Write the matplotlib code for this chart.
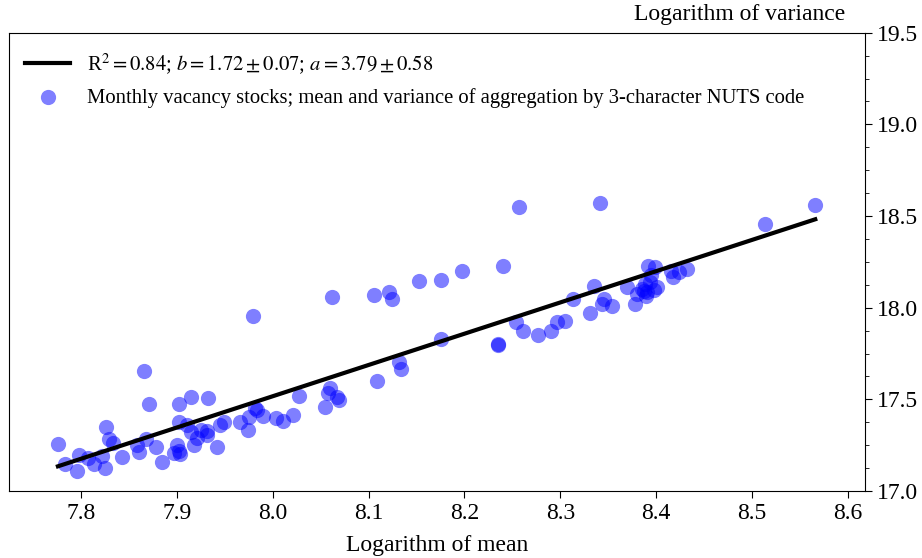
import numpy as np
import matplotlib
matplotlib.use("Agg")
import matplotlib.pyplot as plt
from matplotlib.ticker import AutoMinorLocator, MultipleLocator

plt.rcParams['font.family'] = ['Liberation Serif', 'DejaVu Serif']
plt.rcParams['mathtext.fontset'] = 'stix'

# log of mean / log of variance
log_mean = [
    7.776, 7.783, 7.796, 7.798, 7.807, 7.814, 7.822, 7.825, 7.826, 7.829,
    7.833, 7.843, 7.858, 7.861, 7.866, 7.868, 7.871, 7.878, 7.885, 7.902,
    7.902, 7.900, 7.897, 7.902, 7.903, 7.911, 7.915, 7.915, 7.918, 7.921,
    7.925, 7.931, 7.932, 7.933, 7.942, 7.945, 7.949, 7.966, 7.974, 7.975,
    7.980, 7.984, 7.982, 7.990, 8.003, 8.011, 8.021, 8.027, 8.055, 8.060,
    8.058, 8.067, 8.069, 8.109, 8.132, 8.134, 8.176, 8.235, 8.235,
    8.062, 8.106, 8.121, 8.125, 8.153, 8.176, 8.198, 8.240, 8.257, 8.341,
    8.514, 8.566,
    8.254, 8.261, 8.277, 8.290, 8.297, 8.305, 8.313, 8.331, 8.335, 8.344,
    8.346, 8.354, 8.370, 8.378, 8.380, 8.385, 8.389, 8.392, 8.399, 8.395,
    8.401, 8.388, 8.394, 8.391, 8.398, 8.387, 8.415, 8.418, 8.424, 8.432,
]
log_var = [
    17.257, 17.149, 17.111, 17.196, 17.182, 17.147, 17.193, 17.125, 17.349, 17.286,
    17.264, 17.183, 17.253, 17.211, 17.656, 17.284, 17.474, 17.239, 17.161, 17.474,
    17.375, 17.252, 17.210, 17.216, 17.201, 17.359, 17.515, 17.324, 17.252, 17.288,
    17.333, 17.326, 17.303, 17.507, 17.238, 17.361, 17.378, 17.375, 17.333, 17.405,
    17.953, 17.443, 17.454, 17.410, 17.397, 17.383, 17.415, 17.519, 17.460, 17.564,
    17.535, 17.514, 17.499, 17.603, 17.705, 17.668, 17.827, 17.801, 17.799,
    18.057, 18.072, 18.085, 18.049, 18.144, 18.152, 18.199, 18.227, 18.551, 18.574,
    18.457, 18.561,
    17.924, 17.872, 17.849, 17.872, 17.924, 17.929, 18.045, 17.969, 18.117, 18.022,
    18.045, 18.009, 18.111, 18.023, 18.073, 18.101, 18.063, 18.226, 18.223, 18.179,
    18.114, 18.130, 18.141, 18.087, 18.098, 18.092, 18.203, 18.168, 18.193, 18.209,
]

fit_label = r'R$^2 = 0.84$; $b = 1.72 \pm 0.07$; $a = 3.79 \pm 0.58$'
data_label = 'Monthly vacancy stocks; mean and variance of aggregation by 3-character NUTS code'

x = np.array(log_mean)
y = np.array(log_var)
b, a = np.polyfit(x, y, 1)
xl = np.array([x.min(), x.max()])

fig = plt.figure(figsize=(9.22, 5.58), dpi=100)
ax = fig.add_axes([0.0098, 0.12, 0.9285, 0.8213])

ax.plot(xl, a + b * xl, color='black', lw=3, label=fit_label, zorder=3)
ax.scatter(x, y, s=120, color='blue', alpha=0.5, linewidths=0,
           label=data_label, zorder=2)

ax.set_xlim(7.725, 8.618)
ax.set_ylim(17.0, 19.5)
ax.xaxis.set_major_locator(MultipleLocator(0.1))
ax.yaxis.set_major_locator(MultipleLocator(0.5))
ax.yaxis.set_minor_locator(AutoMinorLocator(4))
ax.yaxis.tick_right()
ax.tick_params(labelsize=17, length=5)
ax.tick_params(which='minor', length=3)

ax.set_xlabel('Logarithm of mean', fontsize=17, labelpad=8)
ax.text(0.977, 1.018, 'Logarithm of variance', transform=ax.transAxes,
        ha='right', va='bottom', fontsize=17)

ax.legend(loc='upper left', bbox_to_anchor=(0.001, 0.993), frameon=False, fontsize=14.85,
          handlelength=2.15, handletextpad=0.85, borderpad=0.75, borderaxespad=0,
          labelspacing=0.55, scatterpoints=1)

fig.savefig('out.png', dpi=100)
